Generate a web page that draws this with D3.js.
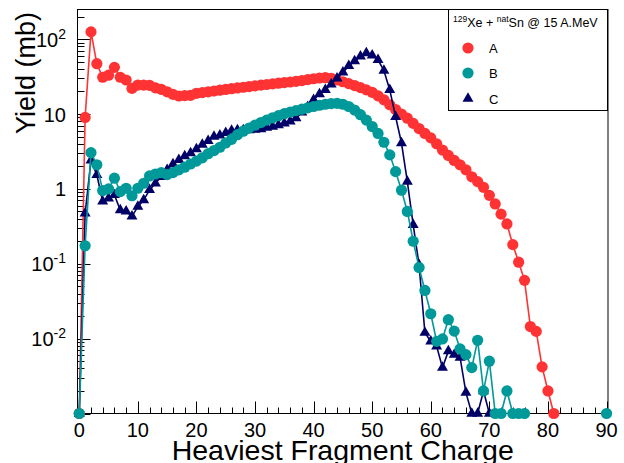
<!DOCTYPE html>
<html>
<head>
<meta charset="utf-8">
<script src="https://cdn.jsdelivr.net/npm/d3@7"></script>
<style>
  body { margin: 0; background: #fff; }
  svg { display: block; font-family: "Liberation Sans", Arial, sans-serif; }
</style>
</head>
<body>
<div id="chart"></div>
<script>
// heaviest fragment charge Z = 0,1,2,... ; value 0 = empty bin (drawn on the bottom edge)
var yieldA = [0, 9, 125, 47, 31, 33, 42, 31, 28.5, 22,
  24.4, 24.4, 24.2, 22.4, 21.4, 19.8, 18.3, 17.4, 17.6, 17.8,
  18.9, 19.3, 19.8, 20.3, 20.8, 21.3, 21.8, 22.3, 22.8, 23.3,
  23.8, 24.3, 24.8, 25.3, 25.8, 26.3, 26.8, 27.3, 28, 28.8,
  29.6, 30.3, 30.6, 30, 28.5, 27, 25.5, 24, 22.5, 21,
  19.5, 17.5, 15.5, 13.3, 11.5, 10, 8.8, 7.5, 6.4, 5.5,
  4.8, 4.0, 3.3, 2.8, 2.4, 2.1, 1.8, 1.45, 1.25, 1.05,
  0.82, 0.63, 0.46, 0.34, 0.18, 0.105, 0.06, 0.0145, 0.0125, 0.0042,
  0.002, 0];

var yieldB = [0, 0.174, 3.05, 2.1, 0.95, 1.0, 1.39, 0.92, 1.02, 0.81,
  1.02, 1.19, 1.49, 1.58, 1.65, 1.55, 1.65, 1.8, 1.95, 2.15,
  2.35, 2.6, 2.95, 3.25, 3.6, 4.1, 4.6, 5.3, 5.9, 6.5,
  7.1, 7.7, 8.3, 8.9, 9.5, 10.1, 10.6, 11.1, 11.6, 12.1,
  12.6, 13.1, 13.5, 13.8, 13.9, 13.5, 12.6, 11.3, 9.8, 8.3,
  6.8, 5.5, 4.2, 2.85, 1.7, 0.96, 0.5, 0.2, 0.089, 0.044,
  0.0215, 0.0092, 0.0099, 0.0179, 0.0126, 0.0073, 0.0061, 0.0041, 0.0095, 0.002,
  0.005, 0, 0, 0.002, 0, 0, 0, null, null, null,
  null, null, null, null, null, null, null, null, null, null,
  0];

var yieldC = [0, 0.47, 2.4, 1.54, 0.68, 0.75, 0.83, 0.52, 0.5, 0.43,
  0.58, 0.71, 0.97, 1.19, 1.45, 1.8, 2.15, 2.45, 2.75, 3.0,
  3.4, 3.9, 4.4, 5.0, 5.2, 5.6, 6.0, 6.1, 6.1, 6.1,
  6.2, 6.3, 6.6, 6.8, 7.1, 7.5, 8.0, 8.8, 10.5, 12.5,
  15.5, 18.5, 21, 25, 30, 36, 44, 51, 59, 65,
  61, 53, 38, 21, 9.2, 4.1, 1.25, 0.33, 0.097, 0.012,
  0.0092, 0.0079, 0.0041, 0.0068, 0.0061, 0.0056, 0.0019, 0, 0, 0.002,
  0];

var xTicks = [0, 10, 20, 30, 40, 50, 60, 70, 80, 90];
var yTicks = [0.01, 0.1, 1, 10, 100];
var yTickBase = ["10", "10", "1", "10", "10"];
var yTickExp = ["-2", "-1", "", "", "2"];

var width = 624, height = 463;
var plotLeft = 77.5, plotRight = 608, plotTop = 9.5, plotBottom = 413.5;
var yMin = 0.001;

var svg = d3.select("#chart").append("svg")
  .attr("width", width)
  .attr("height", height);

var x = d3.scaleLinear().domain([-0.3, 90.25]).range([plotLeft, plotRight]);
var y = d3.scaleLog().domain([yMin, 249]).range([plotBottom, plotTop]);

function toPoints(values) {
  return values.map(function(v, i) { return { z: i, v: v }; });
}

function yPos(v) { return y(Math.max(v, yMin)); }

// x minor ticks every 2, major every 10
var xMinor = d3.range(0, 91, 2);
svg.append("g").selectAll("line")
  .data(xMinor)
  .join("line")
  .attr("x1", function(d) { return Math.round(x(d)) + 0.5; })
  .attr("x2", function(d) { return Math.round(x(d)) + 0.5; })
  .attr("y1", plotBottom)
  .attr("y2", function(d) { return d % 10 == 0 ? plotBottom - 12 : plotBottom - 6; })
  .attr("stroke", "#000")
  .attr("stroke-width", 1);

svg.append("g").selectAll("text")
  .data(xTicks)
  .join("text")
  .attr("x", function(d) { return x(d); })
  .attr("y", 437)
  .attr("text-anchor", "middle")
  .attr("font-size", "20px")
  .text(function(d) { return d; });

// y ticks on the log axis
var yMinor = [];
[0.001, 0.01, 0.1, 1, 10, 100].forEach(function(dec) {
  for (var k = 1; k <= 9; k++) {
    var t = dec * k;
    if (t >= yMin && t <= 249) yMinor.push({ v: t, major: k == 1 });
  }
});
svg.append("g").selectAll("line")
  .data(yMinor)
  .join("line")
  .attr("x1", plotLeft)
  .attr("x2", function(d) { return d.major ? plotLeft + 13 : plotLeft + 7; })
  .attr("y1", function(d) { return Math.round(y(d.v)) + 0.5; })
  .attr("y2", function(d) { return Math.round(y(d.v)) + 0.5; })
  .attr("stroke", "#000")
  .attr("stroke-width", 1);

var yLab = svg.append("g").selectAll("text")
  .data(yTicks)
  .join("text")
  .attr("x", 66)
  .attr("y", function(d) { return y(d) + 7.5; })
  .attr("text-anchor", "end")
  .attr("font-size", "20px");
yLab.append("tspan").text(function(d, i) { return yTickBase[i]; });
yLab.append("tspan")
  .attr("font-size", "14px")
  .attr("dy", -8)
  .text(function(d, i) { return yTickExp[i]; });

// frame
svg.append("rect")
  .attr("x", plotLeft).attr("y", plotTop)
  .attr("width", plotRight - plotLeft).attr("height", plotBottom - plotTop)
  .attr("fill", "none")
  .attr("stroke", "#000")
  .attr("stroke-width", 1);

// axis titles
svg.append("text")
  .attr("x", (plotLeft + plotRight) / 2)
  .attr("y", 460)
  .attr("text-anchor", "middle")
  .attr("font-size", "28.5px")
  .text("Heaviest Fragment Charge");

svg.append("text")
  .attr("transform", "translate(35,12) rotate(-90)")
  .attr("text-anchor", "end")
  .attr("font-size", "27px")
  .text("Yield (mb)");

var line = d3.line()
  .defined(function(d) { return d.v !== null; })
  .x(function(d) { return x(d.z); })
  .y(function(d) { return yPos(d.v); });

function drawSeries(values, color, marker) {
  var pts = toPoints(values);
  svg.append("path")
    .datum(pts)
    .attr("d", line)
    .attr("fill", "none")
    .attr("stroke", color)
    .attr("stroke-width", 1.6);
  var shown = pts.filter(function(d) { return d.v !== null; });
  if (marker == "circle") {
    svg.append("g").selectAll("circle")
      .data(shown)
      .join("circle")
      .attr("cx", function(d) { return x(d.z); })
      .attr("cy", function(d) { return yPos(d.v); })
      .attr("r", 5.6)
      .attr("fill", color);
  } else {
    svg.append("g").selectAll("path")
      .data(shown)
      .join("path")
      .attr("d", d3.symbol(d3.symbolTriangle, 52))
      .attr("transform", function(d) { return "translate(" + x(d.z) + "," + yPos(d.v) + ")"; })
      .attr("fill", color);
  }
}

var colA = "#ff3333", colB = "#009999", colC = "#000066";
drawSeries(yieldA, colA, "circle");
drawSeries(yieldC, colC, "triangle");
drawSeries(yieldB, colB, "circle");

// legend
var leg = svg.append("g");
leg.append("rect")
  .attr("x", 448.5).attr("y", 9.5)
  .attr("width", 159).attr("height", 101)
  .attr("fill", "#fff")
  .attr("stroke", "#000")
  .attr("stroke-width", 1);

var title = leg.append("text")
  .attr("x", 453)
  .attr("y", 27)
  .attr("font-size", "12.5px");
title.append("tspan").attr("font-size", "8.5px").attr("dy", -5).text("129");
title.append("tspan").attr("dy", 5).text("Xe + ");
title.append("tspan").attr("font-size", "8.5px").attr("dy", -5).text("nat");
title.append("tspan").attr("dy", 5).text("Sn @ 15 A.MeV");

var legNames = ["A", "B", "C"];
var legColors = [colA, colB, colC];
var legY = [48, 73, 98.5];
legNames.forEach(function(name, i) {
  if (i < 2) {
    leg.append("circle")
      .attr("cx", 468).attr("cy", legY[i]).attr("r", 5.6)
      .attr("fill", legColors[i]);
  } else {
    leg.append("path")
      .attr("d", d3.symbol(d3.symbolTriangle, 52))
      .attr("transform", "translate(468," + legY[i] + ")")
      .attr("fill", legColors[i]);
  }
  leg.append("text")
    .attr("x", 489)
    .attr("y", legY[i] + 5)
    .attr("font-size", "13px")
    .text(name);
});
</script>
</body>
</html>
